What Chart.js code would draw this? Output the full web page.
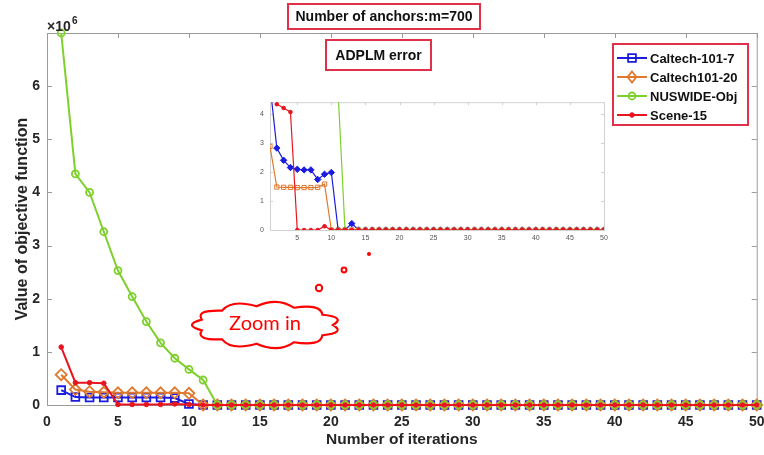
<!DOCTYPE html>
<html>
<head>
<meta charset="utf-8">
<script src="https://cdn.jsdelivr.net/npm/chart.js@4.4.1/dist/chart.umd.min.js"></script>
<style>
  html, body { margin: 0; padding: 0; background: #fff; }
  #wrap { position: relative; width: 764px; height: 455px; overflow: hidden; }
  #main { position: absolute; left: 0; top: 0; }
  #inset { position: absolute; left: 248px; top: 92px; }
</style>
</head>
<body>
<div id="wrap">
  <canvas id="main" width="764" height="455"></canvas>
  <canvas id="inset" width="362" height="155"></canvas>
</div>
<script>
// iterations 1..50
const iterations = [1, 2, 3, 4, 5, 6, 7, 8, 9, 10, 11, 12, 13, 14, 15, 16, 17, 18, 19, 20,
  21, 22, 23, 24, 25, 26, 27, 28, 29, 30, 31, 32, 33, 34, 35, 36, 37, 38, 39, 40,
  41, 42, 43, 44, 45, 46, 47, 48, 49, 50];

const seriesNames = ['Caltech-101-7', 'Caltech101-20', 'NUSWIDE-Obj', 'Scene-15'];

// main plot, values in x10^6
const caltech7 = [0.28, 0.15, 0.14, 0.14, 0.14, 0.14, 0.14, 0.14, 0.13, 0.02,
  0, 0, 0, 0, 0, 0, 0, 0, 0, 0, 0, 0, 0, 0, 0, 0, 0, 0, 0, 0,
  0, 0, 0, 0, 0, 0, 0, 0, 0, 0, 0, 0, 0, 0, 0, 0, 0, 0, 0, 0];
const caltech20 = [0.57, 0.29, 0.25, 0.24, 0.23, 0.23, 0.23, 0.23, 0.23, 0.22,
  0, 0, 0, 0, 0, 0, 0, 0, 0, 0, 0, 0, 0, 0, 0, 0, 0, 0, 0, 0,
  0, 0, 0, 0, 0, 0, 0, 0, 0, 0, 0, 0, 0, 0, 0, 0, 0, 0, 0, 0];
const nuswide = [7.0, 4.35, 4.0, 3.26, 2.53, 2.04, 1.57, 1.17, 0.88, 0.67,
  0.47, 0, 0, 0, 0, 0, 0, 0, 0, 0, 0, 0, 0, 0, 0, 0, 0, 0, 0, 0,
  0, 0, 0, 0, 0, 0, 0, 0, 0, 0, 0, 0, 0, 0, 0, 0, 0, 0, 0, 0];
const scene15 = [1.09, 0.42, 0.42, 0.41, 0.01, 0.01, 0.01, 0.01, 0.02, 0.01,
  0, 0, 0, 0, 0, 0, 0, 0, 0, 0, 0, 0, 0, 0, 0, 0, 0, 0, 0, 0,
  0, 0, 0, 0, 0, 0, 0, 0, 0, 0, 0, 0, 0, 0, 0, 0, 0, 0, 0, 0];

// zoomed inset, values in x10^5
const caltech7Zoom = [5.0, 2.82, 2.4, 2.15, 2.09, 2.07, 2.07, 1.74, 1.92, 1.98,
  0, 0, 0.22, 0, 0, 0, 0, 0, 0, 0, 0, 0, 0, 0, 0, 0, 0, 0, 0, 0,
  0, 0, 0, 0, 0, 0, 0, 0, 0, 0, 0, 0, 0, 0, 0, 0, 0, 0, 0, 0];
const caltech20Zoom = [2.88, 1.48, 1.47, 1.47, 1.46, 1.46, 1.46, 1.47, 1.58, 0,
  0, 0, 0, 0, 0, 0, 0, 0, 0, 0, 0, 0, 0, 0, 0, 0, 0, 0, 0, 0,
  0, 0, 0, 0, 0, 0, 0, 0, 0, 0, 0, 0, 0, 0, 0, 0, 0, 0, 0, 0];
const nuswideZoom = [70, 43.5, 40, 32.6, 25.3, 20.4, 15.7, 11.7, 8.8, 6.7,
  4.7, 0, 0, 0, 0, 0, 0, 0, 0, 0, 0, 0, 0, 0, 0, 0, 0, 0, 0, 0,
  0, 0, 0, 0, 0, 0, 0, 0, 0, 0, 0, 0, 0, 0, 0, 0, 0, 0, 0, 0];
const scene15Zoom = [10.9, 4.33, 4.2, 4.06, 0, 0, 0, 0, 0.13, 0,
  0, 0, 0, 0, 0, 0, 0, 0, 0, 0, 0, 0, 0, 0, 0, 0, 0, 0, 0, 0,
  0, 0, 0, 0, 0, 0, 0, 0, 0, 0, 0, 0, 0, 0, 0, 0, 0, 0, 0, 0];

const xTicksMain = [0, 5, 10, 15, 20, 25, 30, 35, 40, 45, 50];
const yTicksMain = [0, 1, 2, 3, 4, 5, 6];

const colors = ['#1c1ce0', '#e0782e', '#7ed02c', '#e8141e'];
const FONT = "'Liberation Sans', Arial, sans-serif";
Chart.defaults.font.family = FONT;

function drawMarker(ctx, style, x, y, r, color, lw, filled) {
  ctx.save();
  ctx.strokeStyle = color;
  ctx.fillStyle = color;
  ctx.lineWidth = lw;
  ctx.beginPath();
  if (style === 'rect') {
    const s = r * Math.SQRT1_2;
    ctx.rect(x - s, y - s, 2 * s, 2 * s);
  } else if (style === 'rectRot') {
    ctx.moveTo(x, y - r); ctx.lineTo(x + r * 0.8, y); ctx.lineTo(x, y + r); ctx.lineTo(x - r * 0.8, y); ctx.closePath();
  } else {
    ctx.arc(x, y, r, 0, Math.PI * 2);
  }
  if (filled) ctx.fill();
  ctx.stroke();
  ctx.restore();
}

function boxedText(ctx, text, x0, y0, x1, y1, size) {
  ctx.save();
  ctx.fillStyle = '#fff';
  ctx.fillRect(x0, y0, x1 - x0, y1 - y0);
  ctx.strokeStyle = '#e0304a';
  ctx.lineWidth = 2;
  ctx.strokeRect(x0, y0, x1 - x0, y1 - y0);
  ctx.fillStyle = '#111';
  ctx.font = 'bold ' + size + 'px ' + FONT;
  ctx.textAlign = 'center';
  ctx.textBaseline = 'middle';
  ctx.fillText(text, (x0 + x1) / 2, (y0 + y1) / 2 + 1);
  ctx.restore();
}

function drawCloud(ctx, cx, cy, rx, ry, n) {
  ctx.save();
  ctx.beginPath();
  for (let i = 0; i < n; i++) {
    const a0 = i / n * Math.PI * 2, a1 = (i + 1) / n * Math.PI * 2, am = (a0 + a1) / 2;
    const x0 = cx + rx * Math.cos(a0), y0 = cy + ry * Math.sin(a0);
    const x1 = cx + rx * Math.cos(a1), y1 = cy + ry * Math.sin(a1);
    const bx = cx + rx * 1.25 * Math.cos(am), by = cy + ry * 1.5 * Math.sin(am);
    if (i === 0) ctx.moveTo(x0, y0);
    ctx.quadraticCurveTo(bx, by, x1, y1);
  }
  ctx.closePath();
  ctx.fillStyle = '#fff';
  ctx.fill();
  ctx.strokeStyle = '#f00';
  ctx.lineWidth = 2.2;
  ctx.stroke();
  ctx.restore();
}

// matlab style box with inward ticks
const frame = (len, color) => ({
  id: 'frame',
  beforeDatasetsDraw(chart) {
    const { ctx, chartArea: a, scales } = chart;
    ctx.save();
    ctx.strokeStyle = color;
    ctx.lineWidth = 1;
    ctx.strokeRect(a.left + 0.5, a.top + 0.5, a.right - a.left, a.bottom - a.top);
    ctx.beginPath();
    scales.x.ticks.forEach(t => {
      const px = Math.round(scales.x.getPixelForValue(t.value)) + 0.5;
      ctx.moveTo(px, a.bottom); ctx.lineTo(px, a.bottom - len);
      ctx.moveTo(px, a.top); ctx.lineTo(px, a.top + len);
    });
    scales.y.ticks.forEach(t => {
      const py = Math.round(scales.y.getPixelForValue(t.value)) + 0.5;
      ctx.moveTo(a.left, py); ctx.lineTo(a.left + len, py);
      ctx.moveTo(a.right, py); ctx.lineTo(a.right - len, py);
    });
    ctx.stroke();
    ctx.restore();
  }
});

const annotations = {
  id: 'annotations',
  afterDraw(chart) {
    const ctx = chart.ctx;
    // exponent label
    ctx.save();
    ctx.fillStyle = '#262626';
    ctx.font = 'bold 14px ' + FONT;
    ctx.textBaseline = 'alphabetic';
    ctx.fillText('\u00d710', 47, 31);
    ctx.font = 'bold 10px ' + FONT;
    ctx.fillText('6', 72, 24);
    ctx.restore();

    boxedText(ctx, 'Number of anchors:m=700', 288, 4, 480, 29, 14);
    boxedText(ctx, 'ADPLM error', 326, 40, 431, 70, 14);

    // legend
    ctx.save();
    ctx.fillStyle = '#fff';
    ctx.fillRect(613, 44, 135, 81);
    ctx.strokeStyle = '#e0304a';
    ctx.lineWidth = 2;
    ctx.strokeRect(613, 44, 135, 81);
    chart.data.datasets.forEach((ds, i) => {
      const y = 58 + i * 19;
      ctx.strokeStyle = ds.borderColor;
      ctx.lineWidth = 2;
      ctx.beginPath();
      ctx.moveTo(617, y); ctx.lineTo(647, y);
      ctx.stroke();
      drawMarker(ctx, ds.pointStyle, 632, y, ds.pointRadius, ds.borderColor, ds.pointBorderWidth, ds.pointBackgroundColor !== 'transparent');
      ctx.fillStyle = '#111';
      ctx.font = 'bold 13px ' + FONT;
      ctx.textAlign = 'left';
      ctx.textBaseline = 'middle';
      ctx.fillText(ds.label, 650, y + 1);
    });
    ctx.restore();

    // zoom-in callout
    drawCloud(ctx, 266, 325, 67, 19, 11);
    ctx.save();
    ctx.fillStyle = '#f00';
    ctx.font = "20px Lato, 'Open Sans', sans-serif";
    ctx.textAlign = 'center';
    ctx.textBaseline = 'middle';
    ctx.fillText('Zoom in', 265, 324);
    ctx.strokeStyle = '#f00';
    ctx.lineWidth = 2;
    ctx.beginPath(); ctx.arc(319, 288, 3.2, 0, Math.PI * 2); ctx.stroke();
    ctx.beginPath(); ctx.arc(344, 270, 2.4, 0, Math.PI * 2); ctx.stroke();
    ctx.fillStyle = '#f00';
    ctx.beginPath(); ctx.arc(369, 254, 2, 0, Math.PI * 2); ctx.fill();
    ctx.restore();
  }
};

const mainData = [caltech7, caltech20, nuswide, scene15];
const mainStyle = [
  { pointStyle: 'rect', pointRadius: 5.5, pointBorderWidth: 1.8, fill: false },
  { pointStyle: 'rectRot', pointRadius: 5.5, pointBorderWidth: 1.8, fill: false },
  { pointStyle: 'circle', pointRadius: 3.5, pointBorderWidth: 1.8, fill: false },
  { pointStyle: 'circle', pointRadius: 2.3, pointBorderWidth: 1, fill: true }
];

new Chart(document.getElementById('main'), {
  type: 'line',
  data: {
    labels: iterations,
    datasets: mainData.map((vals, i) => ({
      label: seriesNames[i],
      data: vals,
      borderColor: colors[i],
      borderWidth: 2,
      pointStyle: mainStyle[i].pointStyle,
      pointRadius: mainStyle[i].pointRadius,
      pointBorderWidth: mainStyle[i].pointBorderWidth,
      pointBackgroundColor: mainStyle[i].fill ? colors[i] : 'transparent',
      pointBorderColor: colors[i],
      order: 3 - i,
      clip: 8,
      tension: 0
    }))
  },
  options: {
    responsive: false,
    animation: false,
    layout: { padding: { top: 33, right: 6, left: 0, bottom: 0 } },
    plugins: { legend: { display: false }, tooltip: { enabled: false } },
    scales: {
      x: {
        type: 'linear', min: 0, max: 50,
        grid: { display: false, drawTicks: false },
        border: { display: false },
        afterBuildTicks: s => { s.ticks = xTicksMain.map(v => ({ value: v })); },
        ticks: { padding: 9, color: '#262626', font: { size: 14, weight: 'bold' }, maxRotation: 0, autoSkip: false },
        title: { display: true, text: 'Number of iterations', color: '#262626', font: { size: 15.5, weight: 'bold' }, padding: { top: 0, bottom: 6 } },
        afterFit: s => { s.height = 50; s.paddingLeft = 0; s.paddingRight = 0; }
      },
      y: {
        min: 0, max: 7,
        grid: { display: false, drawTicks: false },
        border: { display: false },
        afterBuildTicks: s => { s.ticks = yTicksMain.map(v => ({ value: v })); },
        ticks: { padding: 7, color: '#262626', font: { size: 14, weight: 'bold' } },
        title: { display: true, text: 'Value of objective function', color: '#262626', font: { size: 16, weight: 'bold' }, padding: { top: 13, bottom: 0 } },
        afterFit: s => { s.width = 47; s.paddingTop = 0; s.paddingBottom = 0; }
      }
    }
  },
  plugins: [frame(5, '#9a9a9a'), annotations]
});

// inset chart
const xTicksZoom = [5, 10, 15, 20, 25, 30, 35, 40, 45, 50];
const yTicksZoom = [0, 1, 2, 3, 4];
const zoomData = [caltech7Zoom, caltech20Zoom, nuswideZoom, scene15Zoom];
const zoomStyle = [
  { pointStyle: 'rectRot', pointRadius: 3.2, fill: true },
  { pointStyle: 'rect', pointRadius: 3, fill: false },
  { pointStyle: 'circle', pointRadius: 0, fill: false },
  { pointStyle: 'circle', pointRadius: 1.8, fill: true }
];

const insetBg = {
  id: 'insetBg',
  beforeDraw(chart) {
    const { ctx, chartArea: a } = chart;
    ctx.save();
    ctx.fillStyle = '#fff';
    ctx.fillRect(a.left, a.top, a.right - a.left, a.bottom - a.top);
    ctx.restore();
  }
};

new Chart(document.getElementById('inset'), {
  type: 'line',
  data: {
    labels: iterations,
    datasets: zoomData.map((vals, i) => ({
      label: seriesNames[i],
      data: vals,
      borderColor: colors[i],
      borderWidth: 1.2,
      pointStyle: zoomStyle[i].pointStyle,
      pointRadius: zoomStyle[i].pointRadius,
      pointBorderWidth: 1,
      pointBackgroundColor: zoomStyle[i].fill ? colors[i] : 'transparent',
      pointBorderColor: colors[i],
      order: 3 - i,
      tension: 0
    }))
  },
  options: {
    responsive: false,
    animation: false,
    layout: { padding: { top: 8, right: 6, left: 0, bottom: 0 } },
    plugins: { legend: { display: false }, tooltip: { enabled: false } },
    scales: {
      x: {
        type: 'linear', min: 1, max: 50,
        grid: { display: false, drawTicks: false },
        border: { display: false },
        afterBuildTicks: s => { s.ticks = xTicksZoom.map(v => ({ value: v })); },
        ticks: { padding: 4, color: '#555', font: { size: 7 }, maxRotation: 0, autoSkip: false },
        afterFit: s => { s.height = 17; s.paddingLeft = 0; s.paddingRight = 0; }
      },
      y: {
        min: 0, max: 4.4,
        grid: { display: false, drawTicks: false },
        border: { display: false },
        afterBuildTicks: s => { s.ticks = yTicksZoom.map(v => ({ value: v })); },
        ticks: { padding: 6, color: '#555', font: { size: 7 } },
        afterFit: s => { s.width = 22; }
      }
    }
  },
  plugins: [insetBg, frame(3, '#d2d2d2')]
});
</script>
</body>
</html>
